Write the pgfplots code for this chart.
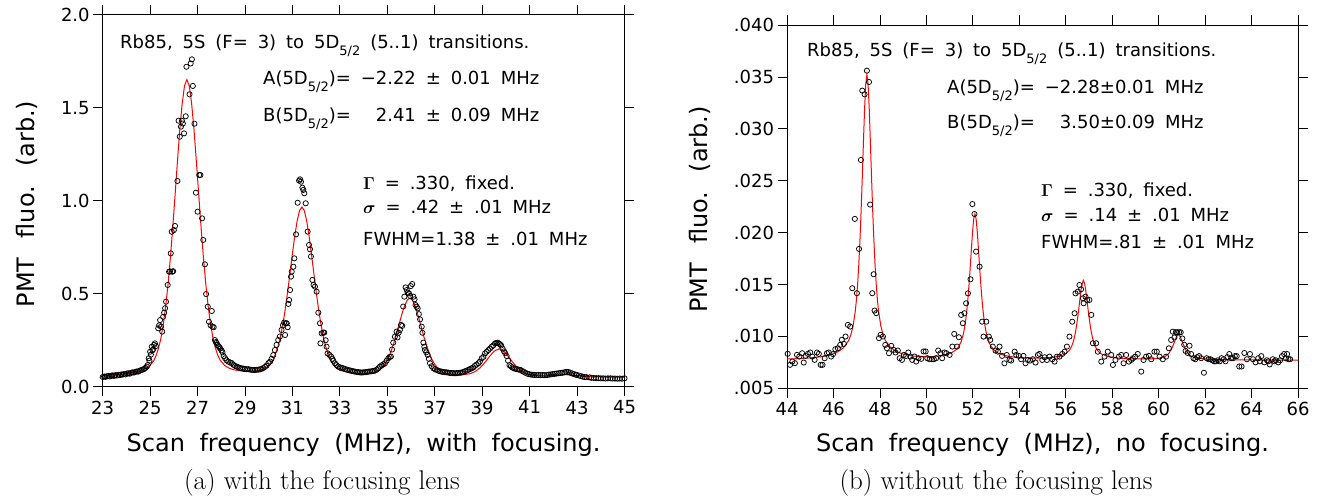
\documentclass[border=0pt]{standalone}
\usepackage{amsmath}
\usepackage{pgfplots}
\pgfplotsset{compat=1.18}
\usepackage{fontspec}
\newfontfamily\dv{DejaVu Sans}
\newcommand{\g}{\hspace{0.55em}}
\newcommand{\sub}[1]{\raisebox{-0.38em}{\fontsize{13}{13}\selectfont #1}}
\newcommand{\tf}{\dv\fontsize{18}{20}\selectfont}
\begin{document}
\begin{tikzpicture}
\useasboundingbox (0,0) rectangle (1317pt,499pt);
\pgfplotsset{
  every axis/.append style={
    scale only axis, anchor=south west,
    axis line style={black, line width=0.8pt},
    tick align=outside, major tick length=9.5pt,
    tick style={black, line width=0.8pt},
    scaled ticks=false,
    /pgf/number format/assume math mode=true,
    ticklabel style={font=\tf},
    xticklabel style={yshift=-1pt},
    clip=true,
  },
  pts/.style={only marks, mark=o, mark size=2.6pt, black, line width=0.75pt},
  fit/.style={red, line width=1pt, no marks},
}
% ---------------- left panel ----------------
\begin{axis}[
  at={(102.7pt,112.3pt)}, width=521.8pt, height=372pt,
  xmin=23, xmax=45, ymin=0, ymax=2,
  xtick={23,25,...,45},
  ytick={0,0.5,1,1.5,2}, yticklabels={0.0,0.5,1.0,1.5,2.0},
]
\addplot[pts] coordinates {
(23.00,0.052)(23.06,0.055)(23.12,0.053)(23.18,0.056)(23.24,0.058)(23.30,0.055)(23.36,0.059)(23.42,0.061)
(23.48,0.058)(23.54,0.062)(23.60,0.060)(23.66,0.064)(23.72,0.062)(23.78,0.066)(23.84,0.065)(23.90,0.068)
(23.96,0.066)(24.02,0.071)(24.08,0.072)(24.14,0.070)(24.20,0.075)(24.26,0.077)(24.32,0.076)(24.38,0.080)
(24.44,0.082)(24.50,0.081)(24.56,0.086)(24.62,0.089)(24.68,0.092)(24.74,0.095)(24.80,0.101)(24.86,0.108)
(24.90,0.117)(24.94,0.153)(24.97,0.140)(25.00,0.188)(25.03,0.172)(25.07,0.215)(25.10,0.196)(25.13,0.201)
(25.17,0.225)(25.20,0.233)(25.24,0.218)(25.34,0.314)(25.38,0.330)(25.42,0.358)(25.46,0.323)(25.51,0.296)
(25.55,0.376)(25.59,0.398)(25.63,0.422)(25.67,0.457)(25.74,0.547)(25.80,0.618)(25.84,0.620)(25.87,0.717)
(25.91,0.833)(25.93,0.618)(25.97,0.621)(26.00,0.842)(26.05,0.864)(26.15,1.106)(26.20,1.430)(26.25,1.344)
(26.30,1.398)(26.34,1.430)(26.38,1.415)(26.43,1.362)(26.50,1.454)(26.53,1.720)(26.66,1.572)(26.71,1.738)
(26.76,1.760)(26.80,1.617)(26.87,1.414)(26.93,1.043)(27.00,0.941)(27.07,1.138)(27.12,1.138)(27.19,0.905)
(27.24,0.789)(27.31,0.658)(27.36,0.498)(27.43,0.430)(27.48,0.349)(27.55,0.330)(27.60,0.407)(27.63,0.323)
(27.68,0.320)(27.73,0.251)(27.77,0.240)(27.80,0.235)(27.84,0.225)(27.88,0.218)(27.92,0.212)(27.96,0.205)
(28.01,0.195)(28.05,0.185)(28.10,0.165)(28.16,0.153)(28.22,0.142)(28.30,0.135)(28.37,0.130)(28.44,0.127)
(28.51,0.118)(28.58,0.112)(28.65,0.108)(28.72,0.104)(28.79,0.101)(28.86,0.099)(28.93,0.097)(29.00,0.095)
(29.07,0.094)(29.14,0.094)(29.21,0.092)(29.28,0.091)(29.35,0.090)(29.42,0.090)(29.49,0.091)(29.56,0.092)
(29.63,0.093)(29.70,0.096)(29.77,0.100)(29.84,0.106)(29.91,0.114)(29.99,0.127)(30.06,0.135)(30.12,0.150)
(30.19,0.170)(30.26,0.197)(30.33,0.225)(30.40,0.251)(30.47,0.270)(30.54,0.305)(30.60,0.330)(30.65,0.345)
(30.69,0.278)(30.72,0.341)(30.76,0.341)(30.80,0.320)(30.83,0.445)(30.86,0.466)(30.90,0.520)(30.94,0.592)
(30.97,0.619)(31.04,0.645)(31.08,0.690)(31.15,0.819)(31.22,0.989)(31.28,1.108)(31.32,1.115)(31.36,1.102)
(31.42,1.070)(31.46,1.058)(31.50,1.040)(31.56,0.986)(31.64,0.834)(31.70,0.762)(31.74,0.739)(31.78,0.700)
(31.84,0.574)(31.89,0.547)(31.95,0.538)(32.02,0.511)(32.09,0.398)(32.16,0.341)(32.18,0.233)(32.23,0.287)
(32.30,0.291)(32.34,0.291)(32.40,0.250)(32.44,0.215)(32.48,0.179)(32.56,0.171)(32.63,0.162)(32.68,0.150)
(32.72,0.140)(32.79,0.126)(32.86,0.116)(32.93,0.108)(33.00,0.104)(33.07,0.101)(33.14,0.099)(33.22,0.095)
(33.29,0.092)(33.36,0.090)(33.43,0.087)(33.50,0.085)(33.57,0.083)(33.64,0.081)(33.71,0.079)(33.78,0.078)
(33.85,0.077)(33.92,0.076)(33.99,0.077)(34.06,0.078)(34.13,0.079)(34.20,0.081)(34.27,0.082)(34.34,0.083)
(34.41,0.085)(34.48,0.086)(34.55,0.092)(34.62,0.099)(34.69,0.108)(34.76,0.115)(34.83,0.120)(34.90,0.126)
(34.97,0.140)(35.04,0.153)(35.10,0.160)(35.15,0.162)(35.20,0.200)(35.25,0.237)(35.32,0.269)(35.39,0.296)
(35.43,0.265)(35.48,0.290)(35.53,0.305)(35.58,0.332)(35.63,0.327)(35.67,0.431)(35.72,0.484)(35.77,0.534)
(35.82,0.520)(35.86,0.506)(35.91,0.502)(35.96,0.488)(35.99,0.541)(36.05,0.552)(36.10,0.484)(36.15,0.470)
(36.19,0.439)(36.24,0.430)(36.28,0.421)(36.33,0.390)(36.38,0.362)(36.45,0.323)(36.48,0.290)(36.52,0.237)
(36.56,0.215)(36.59,0.197)(36.64,0.185)(36.70,0.171)(36.75,0.150)(36.80,0.126)(36.87,0.110)(36.94,0.099)
(37.01,0.094)(37.08,0.090)(37.15,0.086)(37.22,0.083)(37.29,0.081)(37.36,0.079)(37.43,0.078)(37.50,0.077)
(37.57,0.076)(37.64,0.074)(37.71,0.073)(37.78,0.073)(37.85,0.072)(37.92,0.073)(37.99,0.074)(38.06,0.075)
(38.13,0.076)(38.20,0.079)(38.27,0.083)(38.34,0.086)(38.41,0.090)(38.48,0.095)(38.55,0.099)(38.62,0.104)
(38.69,0.112)(38.76,0.119)(38.84,0.126)(38.90,0.135)(38.98,0.153)(39.05,0.160)(39.12,0.179)(39.19,0.188)
(39.26,0.197)(39.33,0.205)(39.40,0.215)(39.47,0.222)(39.54,0.233)(39.60,0.235)(39.65,0.237)(39.70,0.232)
(39.75,0.228)(39.80,0.222)(39.86,0.205)(39.92,0.190)(39.97,0.180)(40.03,0.165)(40.09,0.140)(40.15,0.116)
(40.21,0.110)(40.27,0.104)(40.33,0.099)(40.40,0.096)(40.47,0.094)(40.54,0.092)(40.60,0.091)(40.68,0.085)
(40.75,0.080)(40.82,0.075)(40.90,0.070)(40.98,0.067)(41.06,0.065)(41.14,0.064)(41.21,0.063)(41.30,0.062)
(41.38,0.063)(41.46,0.062)(41.55,0.063)(41.64,0.062)(41.74,0.063)(41.82,0.065)(41.90,0.066)(41.98,0.068)
(42.06,0.069)(42.14,0.071)(42.22,0.072)(42.30,0.074)(42.38,0.075)(42.46,0.077)(42.54,0.080)(42.63,0.079)
(42.70,0.076)(42.78,0.072)(42.86,0.068)(42.94,0.065)(42.99,0.063)(43.08,0.060)(43.16,0.057)(43.24,0.054)
(43.32,0.052)(43.40,0.051)(43.52,0.050)(43.60,0.048)(43.70,0.047)(43.80,0.046)(43.90,0.046)(44.00,0.045)
(44.10,0.045)(44.20,0.044)(44.30,0.045)(44.41,0.045)(44.50,0.044)(44.60,0.044)(44.70,0.043)(44.80,0.044)
(44.90,0.043)(45.00,0.045)
};
\addplot[fit] coordinates {
(23.0,0.0606)(23.5,0.0646)(24.0,0.0711)(24.4,0.0798)(24.7,0.0919)(24.95,0.1072)(25.15,0.1393)(25.25,0.1666)
(25.35,0.2051)(25.45,0.258)(25.55,0.3316)(25.65,0.4261)(25.75,0.5446)(25.85,0.6872)(25.95,0.8505)(26.05,1.028)
(26.15,1.209)(26.25,1.381)(26.35,1.521)(26.45,1.618)(26.55,1.651)(26.65,1.618)(26.75,1.522)(26.85,1.381)
(26.95,1.210)(27.05,1.030)(27.15,0.852)(27.25,0.689)(27.35,0.547)(27.45,0.429)(27.55,0.334)(27.65,0.261)
(27.75,0.208)(27.85,0.170)(27.95,0.143)(28.15,0.113)(28.35,0.0988)(28.55,0.0904)(28.85,0.0848)(29.1,0.0832)
(29.4,0.0831)(29.7,0.0895)(30.0,0.1115)(30.2,0.1478)(30.4,0.2187)(30.5,0.2721)(30.6,0.3392)(30.7,0.4198)
(30.8,0.5124)(30.9,0.6131)(31.0,0.7157)(31.1,0.8129)(31.2,0.8927)(31.3,0.9472)(31.4,0.9661)(31.5,0.9468)
(31.6,0.8921)(31.7,0.8119)(31.8,0.7144)(31.9,0.6115)(32.0,0.5104)(32.1,0.4177)(32.2,0.3366)(32.3,0.2693)
(32.4,0.2156)(32.6,0.1436)(32.8,0.1066)(33.0,0.0886)(33.3,0.0781)(33.6,0.073)(33.9,0.0715)(34.2,0.0725)
(34.5,0.0794)(34.75,0.0988)(34.95,0.1314)(35.05,0.1562)(35.15,0.1871)(35.25,0.2242)(35.35,0.2668)(35.45,0.3132)
(35.55,0.3606)(35.65,0.4053)(35.75,0.4422)(35.85,0.4672)(35.95,0.476)(36.05,0.466)(36.15,0.4408)(36.25,0.4038)
(36.35,0.3589)(36.45,0.3114)(36.55,0.2648)(36.65,0.2233)(36.75,0.186)(36.85,0.155)(36.95,0.1304)(37.15,0.0948)
(37.35,0.0776)(37.6,0.0686)(37.9,0.0646)(38.2,0.0645)(38.5,0.0701)(38.7,0.0816)(38.9,0.1004)(39.1,0.1281)
(39.3,0.1613)(39.5,0.1909)(39.71,0.2036)(39.9,0.1921)(40.1,0.1631)(40.3,0.1295)(40.5,0.1003)(40.7,0.0795)
(40.9,0.068)(41.2,0.0595)(41.6,0.0579)(41.9,0.0599)(42.2,0.0633)(42.5,0.0647)(42.8,0.0625)(43.1,0.0582)
(43.5,0.054)(44.0,0.0521)(44.5,0.0517)(45.0,0.0514)
};
\end{axis}
% ---------------- right panel ----------------
\begin{axis}[
  at={(787pt,110.7pt)}, width=511pt, height=363.3pt,
  xmin=44, xmax=66, ymin=0.005, ymax=0.040,
  xtick={44,46,...,66},
  ytick={0.005,0.010,0.015,0.020,0.025,0.030,0.035,0.040},
  yticklabels={.005,.010,.015,.020,.025,.030,.035,.040},
]
\addplot[pts] coordinates {
(44.03,0.00832)(44.13,0.00726)(44.23,0.00758)(44.34,0.00742)(44.43,0.00822)(44.53,0.00806)(44.65,0.00838)
(44.72,0.00748)(44.80,0.00812)(44.90,0.00832)(45.00,0.00845)(45.09,0.00806)(45.19,0.00774)(45.29,0.00845)
(45.37,0.00832)(45.45,0.00726)(45.53,0.00726)(45.62,0.00790)(45.72,0.00838)(45.80,0.00845)(45.90,0.00806)
(45.98,0.00829)(46.08,0.00877)(46.19,0.00886)(46.29,0.00918)(46.36,0.00967)(46.45,0.00928)(46.52,0.00999)
(46.62,0.01111)(46.72,0.01095)(46.81,0.01464)(46.92,0.02132)(47.01,0.01416)(47.10,0.01843)(47.18,0.02700)
(47.24,0.03368)(47.34,0.03332)(47.44,0.03560)(47.53,0.03451)(47.58,0.02270)(47.67,0.01416)(47.73,0.01599)
(47.77,0.01249)(47.84,0.01224)(47.96,0.00983)(48.03,0.01015)(48.13,0.00999)(48.23,0.00918)(48.30,0.00886)
(48.39,0.00838)(48.49,0.00909)(48.59,0.00870)(48.67,0.00845)(48.77,0.00864)(48.85,0.00790)(48.95,0.00774)
(49.03,0.00822)(49.13,0.00812)(49.22,0.00845)(49.31,0.00806)(49.39,0.00774)(49.49,0.00806)(49.56,0.00758)
(49.66,0.00790)(49.78,0.00784)(49.88,0.00855)(49.97,0.00855)(50.04,0.00790)(50.14,0.00780)(50.24,0.00780)
(50.32,0.00780)(50.42,0.00790)(50.51,0.00864)(50.60,0.00838)(50.68,0.00790)(50.78,0.00845)(50.86,0.00838)
(51.00,0.00822)(51.12,0.00902)(51.20,0.01024)(51.32,0.00902)(51.40,0.00992)(51.50,0.01207)(51.57,0.01127)
(51.64,0.01223)(51.71,0.01319)(51.79,0.01415)(51.90,0.01550)(51.98,0.02275)(52.07,0.02179)(52.14,0.01817)
(52.29,0.01672)(52.40,0.01142)(52.46,0.00998)(52.58,0.01142)(52.69,0.00998)(52.75,0.00966)(52.86,0.00902)
(52.98,0.00863)(53.08,0.00853)(53.15,0.00902)(53.26,0.00812)(53.36,0.00741)(53.46,0.00821)(53.58,0.00773)
(53.65,0.00767)(53.80,0.00853)(53.87,0.00821)(53.98,0.00812)(54.08,0.00780)(54.18,0.00812)(54.27,0.00741)
(54.37,0.00773)(54.47,0.00767)(54.58,0.00780)(54.70,0.00748)(54.80,0.00821)(54.87,0.00831)(54.99,0.00773)
(55.09,0.00799)(55.19,0.00773)(55.30,0.00805)(55.42,0.00780)(55.52,0.00757)(55.62,0.00805)(55.73,0.00805)
(55.85,0.00831)(55.95,0.00853)(56.05,0.00902)(56.16,0.00998)(56.28,0.01142)(56.38,0.01223)(56.42,0.01415)
(56.52,0.01431)(56.59,0.01495)(56.66,0.01454)(56.74,0.01367)(56.77,0.01319)(56.85,0.01383)(56.92,0.01351)
(57.02,0.01351)(57.10,0.01207)(57.17,0.00934)(57.31,0.00934)(57.38,0.00853)(57.53,0.00757)(57.67,0.00805)
(57.81,0.00853)(57.96,0.00821)(58.03,0.00725)(58.14,0.00773)(58.29,0.00805)(58.39,0.00821)(58.49,0.00741)
(58.60,0.00821)(58.72,0.00757)(58.82,0.00773)(58.89,0.00789)(58.99,0.00805)(59.10,0.00831)(59.25,0.00661)
(59.35,0.00773)(59.46,0.00805)(59.58,0.00812)(59.68,0.00780)(59.82,0.00853)(59.92,0.00853)(60.04,0.00805)
(60.18,0.00780)(60.32,0.00805)(60.44,0.00886)(60.54,0.00966)(60.61,0.01046)(60.68,0.00990)(60.74,0.01040)
(60.80,0.01040)(60.88,0.01040)(60.95,0.01040)(61.02,0.00980)(61.10,0.00920)(61.16,0.00860)(61.25,0.00840)
(61.33,0.00910)(61.40,0.00830)(61.50,0.00790)(61.58,0.00780)(61.66,0.00800)(61.74,0.00810)(61.83,0.00790)
(61.95,0.00650)(62.07,0.00790)(62.15,0.00780)(62.23,0.00780)(62.31,0.00770)(62.39,0.00760)(62.47,0.00760)
(62.55,0.00770)(62.63,0.00760)(62.71,0.00790)(62.80,0.00780)(62.88,0.00760)(62.96,0.00800)(63.04,0.00830)
(63.12,0.00790)(63.20,0.00790)(63.28,0.00810)(63.36,0.00810)(63.47,0.00710)(63.57,0.00710)(63.69,0.00840)
(63.80,0.00780)(63.93,0.00830)(64.06,0.00780)(64.17,0.00750)(64.29,0.00790)(64.36,0.00760)(64.42,0.00810)
(64.55,0.00750)(64.66,0.00770)(64.72,0.00760)(64.78,0.00730)(64.91,0.00780)(64.98,0.00760)(65.04,0.00770)
(65.15,0.00750)(65.23,0.00770)(65.31,0.00810)(65.40,0.00830)(65.48,0.00790)(65.53,0.00830)(65.59,0.00780)
(65.66,0.00780)
};
\addplot[fit] coordinates {
(44.0,0.00782)(44.5,0.00786)(45.0,0.00793)(45.5,0.00805)(45.9,0.00825)(46.2,0.00852)(46.44,0.00893)
(46.64,0.00955)(46.74,0.0101)(46.84,0.01096)(46.94,0.01244)(46.99,0.01356)(47.04,0.01503)(47.09,0.0169)
(47.14,0.01926)(47.19,0.02207)(47.24,0.02528)(47.29,0.02869)(47.34,0.03194)(47.39,0.0343)(47.44,0.03523)
(47.49,0.0343)(47.54,0.03195)(47.59,0.0287)(47.64,0.02529)(47.69,0.02208)(47.74,0.01927)(47.79,0.01692)
(47.84,0.01505)(47.89,0.01358)(47.94,0.01247)(48.04,0.01099)(48.14,0.01014)(48.24,0.00959)(48.44,0.00898)
(48.68,0.00857)(49.0,0.00829)(49.4,0.00812)(49.8,0.00806)(50.2,0.00805)(50.6,0.00812)(50.9,0.00826)
(51.09,0.00843)(51.29,0.00874)(51.39,0.00902)(51.49,0.00945)(51.59,0.01021)(51.64,0.01078)(51.69,0.01152)
(51.74,0.01248)(51.79,0.01368)(51.84,0.01511)(51.89,0.01675)(51.94,0.01848)(51.99,0.02013)(52.04,0.02134)
(52.09,0.0218)(52.14,0.02134)(52.19,0.02013)(52.24,0.01848)(52.29,0.01675)(52.34,0.01511)(52.39,0.01368)
(52.44,0.01248)(52.49,0.01152)(52.54,0.01078)(52.59,0.01021)(52.69,0.00945)(52.79,0.00902)(52.89,0.00874)
(53.09,0.00839)(53.4,0.00815)(53.8,0.008)(54.2,0.00793)(54.6,0.00791)(55.0,0.00792)(55.4,0.00797)
(55.76,0.00811)(55.96,0.00828)(56.06,0.00843)(56.16,0.00867)(56.26,0.00908)(56.31,0.00939)(56.36,0.00979)
(56.41,0.01031)(56.46,0.01096)(56.51,0.01174)(56.56,0.01263)(56.61,0.01357)(56.66,0.01447)(56.71,0.01512)
(56.76,0.0154)(56.81,0.01512)(56.86,0.01447)(56.91,0.01357)(56.96,0.01263)(57.01,0.01174)(57.06,0.01096)
(57.11,0.01031)(57.16,0.00979)(57.21,0.00939)(57.26,0.00908)(57.36,0.00867)(57.46,0.00843)(57.56,0.00828)
(57.76,0.00811)(58.1,0.00795)(58.5,0.00786)(58.9,0.00784)(59.3,0.00783)(59.6,0.00783)(59.85,0.00787)
(60.05,0.00792)(60.25,0.00804)(60.35,0.00817)(60.45,0.0084)(60.55,0.00877)(60.65,0.00929)(60.75,0.00987)
(60.8,0.01008)(60.85,0.01016)(60.9,0.01008)(60.95,0.00987)(61.05,0.00929)(61.15,0.00877)(61.25,0.0084)
(61.35,0.00817)(61.45,0.00804)(61.65,0.00792)(61.85,0.00787)(62.2,0.00779)(62.8,0.00775)(63.5,0.00774)
(64.5,0.00772)(65.5,0.00771)(66.0,0.00771)
};
\end{axis}
% ---------------- texts ----------------
\begin{scope}[every node/.style={inner sep=0pt, font=\tf}]
\node[anchor=base west] at (120pt,450.7pt) {Rb85,\g 5S\g (F=\g 3)\g to\g 5D\sub{5/2}\g (5..1)\g transitions.};
\node[anchor=base west] at (263pt,414pt) {A(5D\sub{5/2})=\g −2.22\g ±\g 0.01\g MHz};
\node[anchor=base west] at (263pt,377.3pt) {B(5D\sub{5/2})=\g \phantom{−}2.41\g ±\g 0.09\g MHz};
\node[anchor=base west] at (363pt,309pt) {$\boldsymbol{\Gamma}$\g =\g .330,\g fixed.};
\node[anchor=base west] at (363pt,285.7pt) {$\boldsymbol{\sigma}$\g =\g .42\g ±\g .01\g MHz};
\node[anchor=base west] at (363pt,254pt) {FWHM=1.38\g ±\g .01\g MHz};
\node[anchor=base west] at (807pt,442.3pt) {Rb85,\g 5S\g (F=\g 3)\g to\g 5D\sub{5/2}\g (5..1)\g transitions.};
\node[anchor=base west] at (947pt,405.7pt) {A(5D\sub{5/2})=\g −2.28±0.01\g MHz};
\node[anchor=base west] at (947pt,370.7pt) {B(5D\sub{5/2})=\g \phantom{−}3.50±0.09\g MHz};
\node[anchor=base west] at (1041pt,303pt) {$\boldsymbol{\Gamma}$\g =\g .330,\g fixed.};
\node[anchor=base west] at (1041pt,277.3pt) {$\boldsymbol{\sigma}$\g =\g .14\g ±\g .01\g MHz};
\node[anchor=base west] at (1041pt,250.7pt) {FWHM=.81\g ±\g .01\g MHz};
\end{scope}
\begin{scope}[every node/.style={inner sep=0pt, font=\dv\fontsize{24}{26}\selectfont}]
\node[anchor=base] at (363.6pt,47.3pt) {Scan\hspace{0.6em}frequency\hspace{0.6em}(MHz),\hspace{0.6em}with\hspace{0.6em}focusing.};
\node[anchor=base] at (1042.5pt,47.3pt) {Scan\hspace{0.6em}frequency\hspace{0.6em}(MHz),\hspace{0.6em}no\hspace{0.6em}focusing.};
\node[rotate=90] at (27pt,295pt) {PMT\hspace{0.8em}fluo.\hspace{0.8em}(arb.)};
\node[rotate=90] at (700pt,289.5pt) {PMT\hspace{0.8em}fluo.\hspace{0.8em}(arb.)};
\end{scope}
\begin{scope}[every node/.style={inner sep=0pt, font=\fontsize{27}{30}\selectfont}]
\node[anchor=base] at (322pt,10pt) {(a) with the focusing lens};
\node[anchor=base] at (996pt,10pt) {(b) without the focusing lens};
\end{scope}
\end{tikzpicture}
\end{document}
